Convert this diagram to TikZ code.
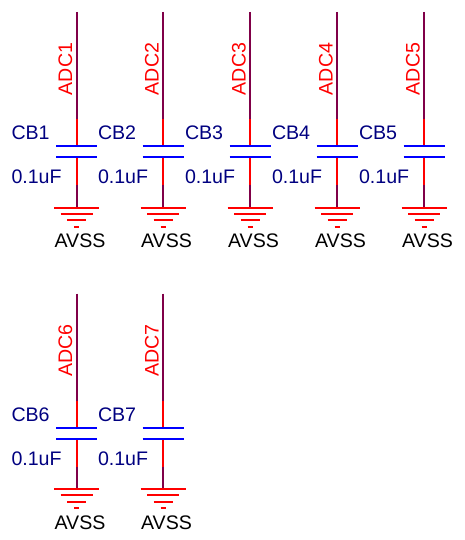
\documentclass[tikz,border=0pt]{standalone}
\usepackage{fontspec}
\setmainfont{Liberation Sans}
\definecolor{wirepurple}{HTML}{800048}
\definecolor{refnavy}{HTML}{000080}
\tikzset{
  x=1bp,y=-1bp,
  wire/.style={draw=wirepurple,line width=2bp},
  pin/.style={draw=red,line width=2bp},
  plate/.style={draw=blue,line width=2bp},
  gndbar/.style={draw=red,line width=2bp},
  txt/.style={inner sep=0pt,outer sep=0pt,font=\fontsize{19.6bp}{20bp}\selectfont},
  netlab/.style={txt,text=red,rotate=90},
  reflab/.style={txt,text=refnavy},
  gndlab/.style={txt,text=black}
}
\newcommand{\capcell}[3]{%
  \coordinate (top#1) at (#2,12+#3);
  \coordinate (pinA#1) at (#2,119+#3);
  \coordinate (capA#1) at (#2,146.5+#3);
  \coordinate (capB#1) at (#2,157.5+#3);
  \coordinate (pinB#1) at (#2,185+#3);
  \coordinate (gnd#1) at (#2,207.5+#3);
  \draw[wire] (top#1) -- (pinA#1);
  \draw[pin] (pinA#1) -- (capA#1);
  \draw[pin] (capB#1) -- (pinB#1);
  \draw[wire] (pinB#1) -- (gnd#1);
  \draw[plate] ([xshift=-20.5bp]capA#1) -- ([xshift=20.5bp]capA#1);
  \draw[plate] ([xshift=-20.5bp]capB#1) -- ([xshift=20.5bp]capB#1);
  \draw[gndbar] ([xshift=-22.5bp]gnd#1) -- ([xshift=22.5bp]gnd#1);
  \draw[gndbar] ([xshift=-16bp,yshift=-6bp]gnd#1) -- ([xshift=16bp,yshift=-6bp]gnd#1);
  \draw[gndbar] ([xshift=-9.5bp,yshift=-12.5bp]gnd#1) -- ([xshift=9.5bp,yshift=-12.5bp]gnd#1);
  \draw[gndbar] ([xshift=-2.5bp,yshift=-19bp]gnd#1) -- ([xshift=2.5bp,yshift=-19bp]gnd#1);
  \node[netlab,anchor=base] (adc#1) at (#2-4.5,69+#3) {ADC#1};
  \node[reflab,anchor=base west] (cb#1) at (#2-65,140+#3) {CB#1};
  \node[reflab,anchor=base west] (val#1) at (#2-65,184+#3) {0.1uF};
  \node[gndlab,anchor=base] (avss#1) at (#2+3.5,247.5+#3) {AVSS};
}
\begin{document}
\begin{tikzpicture}
\useasboundingbox (0,0) rectangle (465,540);
\capcell{1}{76.5}{0}
\capcell{2}{163}{0}
\capcell{3}{250}{0}
\capcell{4}{337}{0}
\capcell{5}{424}{0}
\capcell{6}{76.5}{281.5}
\capcell{7}{163}{281.5}
\end{tikzpicture}
\end{document}
